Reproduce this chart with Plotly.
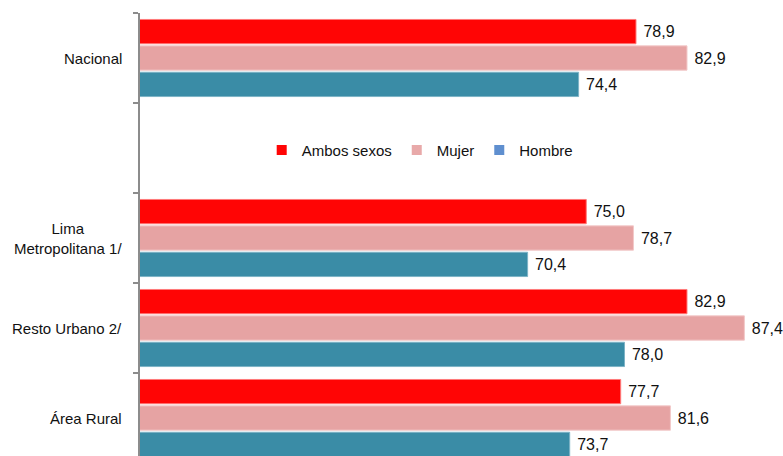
import plotly.graph_objects as go

positions = [0, 2, 3, 4]
label_cats = ["Nacional", "Lima<br>Metropolitana 1/", "Resto Urbano 2/", "Área Rural"]
ambos = [78.9, 75.0, 82.9, 77.7]
mujer = [82.9, 78.7, 87.4, 81.6]
hombre = [74.4, 70.4, 78.0, 73.7]
series_names = ["Ambos sexos", "Mujer", "Hombre"]
bar_colors = ["#FF0505", "#E6A3A3", "#3A8CA6"]
edge_colors = ["#FF7A7A", "#F2C8C8", "#7DB3C6"]
legend_colors = ["#FF0505", "#E8A9A9", "#5F8FCF"]

def fmt(v):
    return "\u00a0" + f"{v:.1f}".replace(".", ",")

fig = go.Figure()
for name, vals, col, edge in zip(series_names, [ambos, mujer, hombre], bar_colors, edge_colors):
    fig.add_trace(go.Bar(
        y=positions, x=vals, orientation="h", name=name, showlegend=False,
        marker=dict(color=col, line=dict(color=edge, width=1)),
        text=[fmt(v) for v in vals], textposition="outside",
        textfont=dict(size=16, color="#111111", family="Liberation Sans, Arial"),
        cliponaxis=False,
    ))
for name, col in zip(series_names, legend_colors):
    fig.add_trace(go.Scatter(
        x=[None], y=[None], mode="markers", name=name,
        marker=dict(symbol="square", size=10, color=col),
    ))

for pos, lab in zip(positions, label_cats):
    fig.add_annotation(
        x=0, xref="paper", y=pos, yref="y", text=lab, showarrow=False,
        xanchor="right", yanchor="middle", xshift=-16, align="center",
        font=dict(size=15, color="#111111", family="Liberation Sans, Arial"),
    )

fig.update_layout(
    width=783, height=456,
    margin=dict(l=140, r=0, t=13, b=0, pad=0),
    plot_bgcolor="white", paper_bgcolor="white",
    barmode="group", bargap=0.12, bargroupgap=0.08,
    font=dict(family="Liberation Sans, Arial", size=15, color="#111111"),
    legend=dict(orientation="h", x=0.435, xanchor="center", y=0.69, yanchor="middle",
                font=dict(size=15), itemwidth=30, bgcolor="rgba(0,0,0,0)"),
    xaxis=dict(range=[40, 90.43], showgrid=False, zeroline=False, showline=False,
               showticklabels=False, ticks="", automargin=False),
    yaxis=dict(range=[4.422, -0.5], showgrid=False, zeroline=False, showline=True,
               linecolor="#8C8C8C", linewidth=1.5,
               tickmode="array", tickvals=[-0.5, 0.5, 1.5, 2.5, 3.5],
               ticktext=["", "", "", "", ""], ticks="outside", ticklen=5,
               tickcolor="#8C8C8C", tickwidth=1.5, automargin=False),
)

fig.write_html("out.html", config={"displayModeBar": False},
               post_script="document.body.style.margin='0';document.body.style.overflow='hidden';")
